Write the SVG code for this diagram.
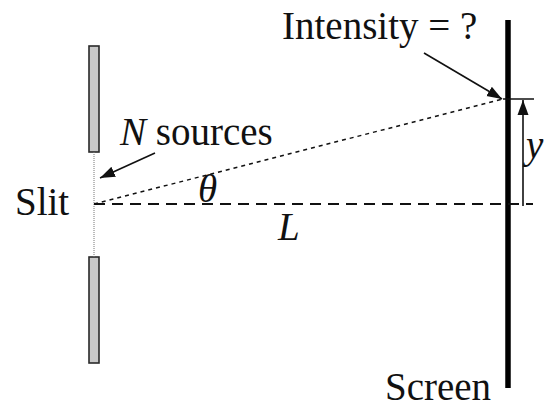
<svg xmlns="http://www.w3.org/2000/svg" width="546" height="408" viewBox="0 0 546 408">
<style>
text{font-family:"Liberation Serif","Times New Roman",serif;font-size:39px;fill:#111}
.it{font-style:italic}
.bar{fill:#c8c8c8;stroke:#2a2a2a;stroke-width:1.6}
.arr{stroke:#111;stroke-width:1.6;fill:none;marker-end:url(#ah)}
</style>
<defs>
<marker id="ah" markerUnits="userSpaceOnUse" markerWidth="16" markerHeight="12" viewBox="0 0 16 12" refX="15" refY="6" orient="auto">
<path d="M0,0.5 L15,6 L0,11.5 Z" fill="#111"/>
</marker>
</defs>
<rect width="546" height="408" fill="#fff"/>
<g id="slit">
<rect class="bar" x="89" y="46" width="10" height="106"/>
<rect class="bar" x="89" y="257" width="10" height="106"/>
<line x1="94" y1="152" x2="94" y2="257" stroke="#777" stroke-width="1" stroke-dasharray="1,1"/>
<text x="15" y="215">Slit</text>
</g>
<g id="screen">
<line x1="508" y1="20" x2="508" y2="388" stroke="#000" stroke-width="5.5"/>
<text x="385" y="400">Screen</text>
</g>
<g id="labels">
<text x="282" y="39">Intensity = ?</text>
<text x="120" y="145"><tspan class="it">N</tspan> sources</text>
<text class="it" x="198" y="202">θ</text>
<text class="it" x="278" y="240">L</text>
<text class="it" x="526" y="158">y</text>
</g>
<g id="connectors">
<line x1="94" y1="204" x2="533" y2="204" stroke="#111" stroke-width="2" stroke-dasharray="11,7"/>
<line x1="94" y1="204" x2="503" y2="99" stroke="#111" stroke-width="1.5" stroke-dasharray="4,4"/>
<line x1="503" y1="99" x2="534" y2="99" stroke="#111" stroke-width="1.5"/>
<line class="arr" x1="523" y1="206" x2="523" y2="100"/>
<line class="arr" x1="424" y1="53" x2="502" y2="99"/>
<line class="arr" x1="155" y1="153" x2="100" y2="178"/>
</g>
</svg>
